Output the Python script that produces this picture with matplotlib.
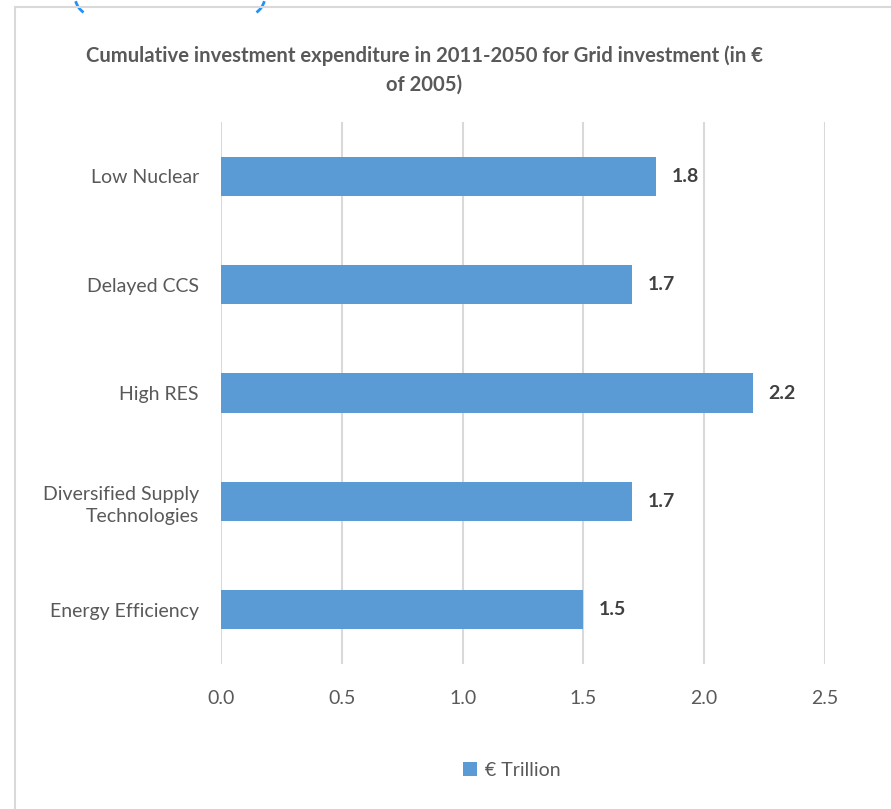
import matplotlib
matplotlib.use("Agg")
import matplotlib.pyplot as plt
from matplotlib.patches import Rectangle, Patch, Arc
from matplotlib.transforms import IdentityTransform

# Data
scenarios = ["Low Nuclear", "Delayed CCS", "High RES",
             "Diversified Supply\nTechnologies", "Energy Efficiency"]
trillions = [1.8, 1.7, 2.2, 1.7, 1.5]
xticks = [0.0, 0.5, 1.0, 1.5, 2.0, 2.5]
series_name = "€ Trillion"
title = "Cumulative investment expenditure in 2011-2050 for Grid investment (in €\nof 2005)"

bar_color = "#5B9BD5"
text_color = "#595959"
grid_color = "#D9D9D9"

plt.rcParams["font.family"] = ["Lato", "DejaVu Sans"]

W, H = 891, 809
fig = plt.figure(figsize=(W / 100, H / 100), dpi=100)

# chart border (frame runs off right and bottom)
fig.patches.append(Rectangle((15 / W, -0.01), 1.0, 1 - 7 / H + 0.01,
                             transform=fig.transFigure, fill=False,
                             edgecolor="#D9D9D9", linewidth=1.5))

# bottom ends of the blue brackets above the frame
for cx, t1, t2 in [(95, 195, 235), (245, 305, 345)]:
    fig.add_artist(Arc((cx, H + 4), 40, 40, theta1=t1, theta2=t2,
                       transform=IdentityTransform(), color="#1E90FF", linewidth=2))

left, right = 221 / W, 825 / W
top, bottom = 1 - 122 / H, 1 - 664 / H
ax = fig.add_axes([left, bottom, right - left, top - bottom])

ypos = list(range(len(scenarios)))
ax.barh(ypos, trillions, height=0.36, color=bar_color, zorder=3)
for y, v in zip(ypos, trillions):
    ax.text(v + 0.065, y, f"{v:.1f}", va="center", ha="left",
            fontsize=14, fontweight="bold", color="#404040")

ax.set_xlim(0, 2.5)
ax.set_ylim(len(scenarios) - 0.5, -0.5)
ax.set_xticks(xticks)
ax.set_xticklabels([f"{t:.1f}" for t in xticks], color=text_color, fontsize=14)
ax.set_yticks(ypos)
ax.set_yticklabels(scenarios, color=text_color, fontsize=14, linespacing=1.35)
ax.tick_params(axis="both", length=0)
ax.tick_params(axis="x", pad=19)
ax.tick_params(axis="y", pad=16)
ax.grid(axis="x", color=grid_color, linewidth=1.5, zorder=0)
for s in ax.spines.values():
    s.set_visible(False)

fig.text(424 / W, 1 - 70 / H, title, ha="center", va="center",
         fontsize=14.6, fontweight="bold", color=text_color, linespacing=1.55)

fig.legend(handles=[Patch(facecolor=bar_color, label=series_name)],
           loc="center", bbox_to_anchor=(512 / W, 1 - 770 / H), frameon=False,
           fontsize=14, labelcolor=text_color, handlelength=0.7, handleheight=0.7,
           handletextpad=0.4)

fig.savefig("out.png", dpi=100)
